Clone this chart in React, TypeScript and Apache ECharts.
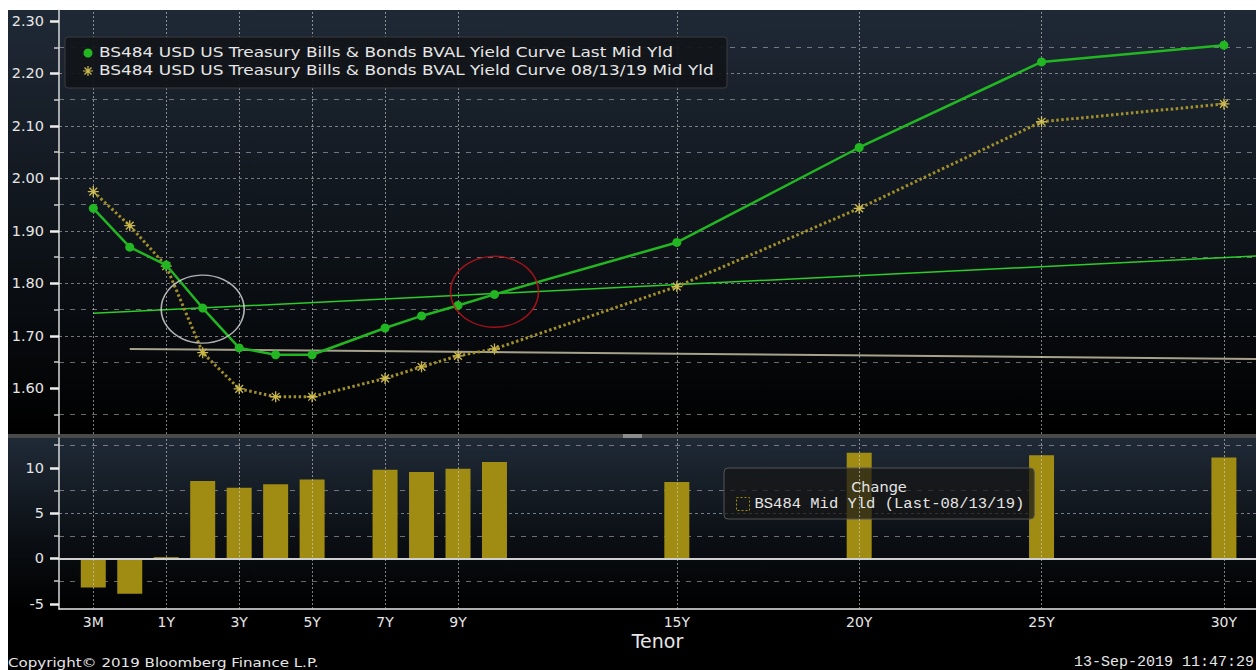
import React, { useEffect, useRef } from 'react';
import * as echarts from 'echarts';

// ---------- data ----------
const tenorLabels = ['3M', '6M', '1Y', '2Y', '3Y', '4Y', '5Y', '7Y', '8Y', '9Y', '10Y', '15Y', '20Y', '25Y', '30Y'];
// Bloomberg places tenors on an (almost) yearly scale, 3M and 6M one step apart
const tenorAxisPos = [-1, 0, 1, 2, 3, 4, 5, 7, 8, 9, 10, 15, 20, 25, 30];
const lastMidYld = [1.943, 1.869, 1.835, 1.753, 1.677, 1.664, 1.664, 1.715, 1.738, 1.758, 1.779, 1.878, 2.059, 2.222, 2.254];
const priorMidYld = [1.975, 1.91, 1.833, 1.668, 1.599, 1.584, 1.584, 1.619, 1.641, 1.662, 1.675, 1.794, 1.943, 2.108, 2.142];
const changeBp = [-3.2, -3.9, 0.15, 8.55, 7.8, 8.2, 8.7, 9.8, 9.55, 9.9, 10.65, 8.45, 11.65, 11.4, 11.15];
const labeledTenors = ['3M', '1Y', '3Y', '5Y', '7Y', '9Y', '15Y', '20Y', '25Y', '30Y'];
const yieldTicks = [1.6, 1.7, 1.8, 1.9, 2.0, 2.1, 2.2, 2.3];
const changeTicks = [-5, 0, 5, 10];
const lastTrendEnds = [[-1, 1.743], [30.88, 1.852]];
const priorTrendEnds = [[0, 1.675], [30.88, 1.656]];
const circledLast = [2, 1.751];
const circledCross = [10, 1.784];

const lastName = 'BS484 USD US Treasury Bills & Bonds BVAL Yield Curve Last Mid Yld';
const priorName = 'BS484 USD US Treasury Bills & Bonds BVAL Yield Curve 08/13/19 Mid Yld';
const changeName = 'BS484 Mid Yld (Last-08/13/19)';
const changeTitle = 'Change';
const copyrightText = 'Copyright\u00A9 2019 Bloomberg Finance L.P.';
const stampText = '13-Sep-2019 11:47:29';
const xAxisName = 'Tenor';

// ---------- styles ----------
const GREEN = '#22b622';
const GOLD_LINE = '#a08f2c';
const GOLD_MARK = '#cbb84a';
const BAR = '#a08c12';
const TXT = '#e6e6e6';
const SANS = 'DejaVu Sans';
const MONO = 'Liberation Mono';
const ASTERISK_D =
  'M4.4,0H5.6V10H4.4Z M0,4.4H10V5.6H0Z M1.05,1.9L1.9,1.05L8.95,8.1L8.1,8.95Z M8.1,1.05L8.95,1.9L1.9,8.95L1.05,8.1Z';
const ASTERISK = 'path://' + ASTERISK_D;

let shapeRegistered = false;
function registerShapes() {
  if (shapeRegistered) return;
  echarts.graphic.registerShape('asterisk', echarts.graphic.extendPath(ASTERISK_D, {}) as any);
  shapeRegistered = true;
}

const labeledPos = labeledTenors.map((l) => tenorAxisPos[tenorLabels.indexOf(l)]);
const labelFor = (v: number) => {
  const i = tenorAxisPos.findIndex((p) => Math.abs(p - v) < 1e-6);
  return i >= 0 ? tenorLabels[i] : '';
};
const pairs = (ys: number[]) => tenorAxisPos.map((x, i) => [x, ys[i]]);

const X_MIN = -1.94;
const X_MAX = 30.88;

const gridDash = { color: 'rgba(205,205,205,0.55)', width: 1, type: [3, 3] as any };
const gridDashMinor = { color: 'rgba(205,205,205,0.5)', width: 1, type: [5, 6] as any };
const gridDot = { color: 'rgba(210,210,210,0.6)', width: 1, type: [2, 2] as any };

function verticalGrid(idx: number): any {
  return {
    name: 'vgrid' + idx,
    type: 'line',
    xAxisIndex: idx,
    yAxisIndex: idx,
    data: [],
    silent: true,
    z: 1,
    markLine: {
      silent: true,
      symbol: ['none', 'none'],
      label: { show: false },
      lineStyle: gridDot,
      data: labeledPos.map((x) => ({ xAxis: x })),
    },
  };
}

function buildOption(): any {
  const yAxisCommon = {
    type: 'value',
    axisLine: { show: true, onZero: false, lineStyle: { color: '#d8d8d8', width: 1.5 } },
    axisTick: { show: true, length: 9, lineStyle: { color: '#eeeeee', width: 2.5 } },
    minorTick: { show: true, splitNumber: 2, length: 5, lineStyle: { color: '#cccccc', width: 1.5 } },
    axisLabel: {
      color: TXT,
      fontSize: 14.5,
      fontFamily: SANS,
      margin: 15,
    },
    splitLine: { show: true, showMinLine: false, showMaxLine: false, lineStyle: gridDash },
    minorSplitLine: { show: true, lineStyle: gridDashMinor },
  };

  return {
    animation: false,
    textStyle: { fontFamily: SANS },
    grid: [
      { left: 59, right: 0, top: 10, height: 424 },
      { left: 59, right: 0, top: 438, height: 171 },
    ],
    xAxis: [
      {
        type: 'value',
        gridIndex: 0,
        min: X_MIN,
        max: X_MAX,
        axisLine: { show: false },
        axisTick: { show: false },
        axisLabel: { show: false },
        splitLine: { show: false },
      },
      {
        type: 'value',
        gridIndex: 1,
        min: X_MIN,
        max: X_MAX,
        name: xAxisName,
        nameLocation: 'middle',
        nameGap: 22,
        nameTextStyle: { color: TXT, fontSize: 19, fontFamily: SANS },
        axisLine: { show: true, onZero: false, lineStyle: { color: '#e8e8e8', width: 1.5 } },
        axisTick: { show: false },
        axisLabel: {
          customValues: labeledPos,
          formatter: (v: number) => labelFor(v),
          color: TXT,
          fontSize: 14,
          fontFamily: SANS,
          margin: 6,
        },
        splitLine: { show: false },
      },
    ],
    yAxis: [
      {
        ...yAxisCommon,
        gridIndex: 0,
        min: 1.513,
        max: 2.321,
        minInterval: 0.1,
        maxInterval: 0.1,
        splitNumber: 8,
        axisTick: { ...yAxisCommon.axisTick, customValues: yieldTicks },
        axisLabel: { ...yAxisCommon.axisLabel, customValues: yieldTicks, formatter: (v: number) => v.toFixed(2) },
      },
      {
        ...yAxisCommon,
        gridIndex: 1,
        min: -5.57,
        max: 13.29,
        minInterval: 5,
        maxInterval: 5,
        splitNumber: 4,
        axisTick: { ...yAxisCommon.axisTick, customValues: changeTicks },
        axisLabel: { ...yAxisCommon.axisLabel, customValues: changeTicks, formatter: (v: number) => String(v) },
      },
    ],
    legend: [
      {
        data: [
          {
            name: changeName,
            icon: 'rect',
            itemStyle: { color: 'rgba(0,0,0,0)', borderColor: BAR, borderWidth: 1, borderType: [2, 2] },
          },
        ],
        left: 724,
        top: 468,
        itemWidth: 13,
        itemHeight: 13,
        padding: [28, 10, 7, 12],
        backgroundColor: 'rgba(22,22,22,0.72)',
        borderColor: '#555555',
        borderWidth: 1,
        borderRadius: 4,
        selectedMode: false,
        textStyle: { color: TXT, fontSize: 15.5, fontFamily: MONO },
      },
    ],
    graphic: [
      {
        type: 'rect',
        z: -10,
        silent: true,
        shape: { x: 8, y: 10, width: 1248, height: 424 },
        style: {
          fill: new echarts.graphic.LinearGradient(0, 0, 0, 1, [
            { offset: 0, color: '#1f2936' },
            { offset: 0.55, color: '#0e1319' },
            { offset: 1, color: '#000000' },
          ]),
        },
      },
      {
        type: 'rect',
        z: -10,
        silent: true,
        shape: { x: 8, y: 434, width: 1248, height: 4 },
        style: { fill: '#4a4a4a' },
      },
      {
        type: 'line',
        z: 10,
        silent: true,
        shape: { x1: 623, y1: 435, x2: 642, y2: 435 },
        style: { stroke: '#cfcfcf', lineWidth: 1 },
      },
      {
        type: 'line',
        z: 10,
        silent: true,
        shape: { x1: 623, y1: 437, x2: 642, y2: 437 },
        style: { stroke: '#cfcfcf', lineWidth: 1 },
      },
      {
        type: 'rect',
        z: -10,
        silent: true,
        shape: { x: 8, y: 438, width: 1248, height: 171 },
        style: {
          fill: new echarts.graphic.LinearGradient(0, 0, 0, 1, [
            { offset: 0, color: '#1f2a37' },
            { offset: 0.6, color: '#0b0f14' },
            { offset: 1, color: '#000000' },
          ]),
        },
      },
      {
        type: 'rect',
        z: -10,
        silent: true,
        shape: { x: 8, y: 609, width: 1248, height: 61 },
        style: { fill: '#000000' },
      },
      // legend of the yield curves
      {
        type: 'group',
        z: 10,
        children: [
          {
            type: 'rect',
            z: 10,
            silent: true,
            shape: { x: 65, y: 37, width: 662, height: 51, r: 3 },
            style: { fill: 'rgba(17,20,25,0.93)', stroke: '#3c3c3c', lineWidth: 1 },
          },
          {
            type: 'circle',
            z: 11,
            silent: true,
            shape: { cx: 88, cy: 53, r: 4.5 },
            style: { fill: GREEN },
          },
          {
            type: 'asterisk',
            z: 11,
            silent: true,
            x: 83,
            y: 66,
            scaleX: 1,
            scaleY: 1,
            style: { fill: GOLD_MARK },
          },
          {
            type: 'text',
            z: 11,
            silent: true,
            x: 99,
            y: 53,
            scaleX: 1.237,
            style: {
              text: lastName,
              fill: TXT,
              fontSize: 13.7,
              fontFamily: SANS,
              textAlign: 'left',
              textVerticalAlign: 'middle',
            },
          },
          {
            type: 'text',
            z: 11,
            silent: true,
            x: 99,
            y: 71,
            scaleX: 1.237,
            style: {
              text: priorName,
              fill: TXT,
              fontSize: 13.7,
              fontFamily: SANS,
              textAlign: 'left',
              textVerticalAlign: 'middle',
            },
          },
        ],
      },
      {
        type: 'text',
        z: 10,
        silent: true,
        x: 879,
        y: 487,
        style: {
          text: changeTitle,
          fill: TXT,
          fontSize: 14.5,
          fontFamily: SANS,
          textAlign: 'center',
          textVerticalAlign: 'middle',
        },
      },
      {
        type: 'text',
        z: 10,
        silent: true,
        x: 8,
        y: 662,
        scaleX: 1.16,
        style: {
          text: copyrightText,
          fill: TXT,
          fontSize: 13,
          fontFamily: SANS,
          textAlign: 'left',
          textVerticalAlign: 'middle',
        },
      },
      {
        type: 'text',
        z: 10,
        silent: true,
        x: 1254,
        y: 662,
        style: {
          text: stampText,
          fill: TXT,
          fontSize: 15,
          fontFamily: MONO,
          textAlign: 'right',
          textVerticalAlign: 'middle',
        },
      },
    ],
    series: [
      verticalGrid(0),
      verticalGrid(1),
      {
        name: 'lastTrend',
        type: 'line',
        xAxisIndex: 0,
        yAxisIndex: 0,
        data: lastTrendEnds,
        symbol: 'none',
        silent: true,
        z: 3,
        lineStyle: { color: '#2ccc2c', width: 1.5 },
      },
      {
        name: 'priorTrend',
        type: 'line',
        xAxisIndex: 0,
        yAxisIndex: 0,
        data: priorTrendEnds,
        symbol: 'none',
        silent: true,
        z: 3,
        lineStyle: { color: '#a7a28c', width: 2 },
      },
      {
        name: priorName,
        type: 'line',
        xAxisIndex: 0,
        yAxisIndex: 0,
        data: pairs(priorMidYld),
        symbol: ASTERISK,
        symbolSize: 11,
        z: 4,
        itemStyle: { color: GOLD_MARK },
        lineStyle: { color: GOLD_LINE, width: 3, type: [2.5, 2.5] },
      },
      {
        name: lastName,
        type: 'line',
        xAxisIndex: 0,
        yAxisIndex: 0,
        data: pairs(lastMidYld),
        symbol: 'circle',
        symbolSize: 9,
        z: 5,
        itemStyle: { color: GREEN },
        lineStyle: { color: GREEN, width: 2.5 },
      },
      {
        name: 'whiteCircle',
        type: 'scatter',
        xAxisIndex: 0,
        yAxisIndex: 0,
        data: [circledLast],
        symbol: 'circle',
        symbolSize: [83, 68],
        silent: true,
        z: 6,
        itemStyle: { color: 'rgba(0,0,0,0)', borderColor: '#dcdcdc', borderWidth: 1.5 },
      },
      {
        name: 'redCircle',
        type: 'scatter',
        xAxisIndex: 0,
        yAxisIndex: 0,
        data: [circledCross],
        symbol: 'circle',
        symbolSize: [88, 71],
        silent: true,
        z: 6,
        itemStyle: { color: 'rgba(0,0,0,0)', borderColor: '#c3131c', borderWidth: 1.5 },
      },
      {
        name: changeName,
        type: 'bar',
        xAxisIndex: 1,
        yAxisIndex: 1,
        data: pairs(changeBp),
        barWidth: 25,
        z: 3,
        itemStyle: { color: BAR },
        markLine: {
          silent: true,
          symbol: ['none', 'none'],
          label: { show: false },
          lineStyle: { color: '#cfcfcf', width: 2, type: 'solid' },
          data: [{ yAxis: 0 }],
        },
      },
    ],
  };
}

export default function App() {
  const ref = useRef<HTMLDivElement>(null);
  useEffect(() => {
    if (!ref.current) return;
    registerShapes();
    const chart = echarts.init(ref.current, null, { renderer: 'svg' });
    chart.setOption(buildOption());
    return () => chart.dispose();
  }, []);
  return (
    <div
      ref={ref}
      style={{ position: 'fixed', left: 0, top: 0, width: 1256, height: 670, background: '#ffffff' }}
    />
  );
}
